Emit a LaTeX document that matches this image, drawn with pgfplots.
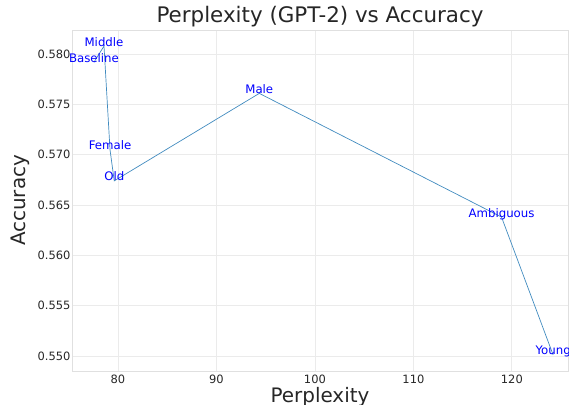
\documentclass[border=0pt]{standalone}
\usepackage{pgfplots}
\pgfplotsset{compat=1.18}
\usepackage{fontspec}
\setmainfont{DejaVu Sans}
\definecolor{mplblue}{HTML}{1F77B4}
\definecolor{gridgray}{HTML}{EBEBEB}
\definecolor{spinegray}{HTML}{E0E0E0}
\definecolor{txt}{HTML}{262626}
\begin{document}
\begin{tikzpicture}
\useasboundingbox (0,0) rectangle (569bp,405bp);
\begin{axis}[
  at={(72bp,34bp)}, anchor=south west,
  scale only axis,
  width=496bp, height=341bp,
  xmin=75.33, xmax=125.7,
  ymin=0.5485, ymax=0.5824,
  xtick={80,90,100,110,120},
  ytick={0.550,0.555,0.560,0.565,0.570,0.575,0.580},
  yticklabel style={/pgf/number format/fixed, /pgf/number format/fixed zerofill,
    /pgf/number format/precision=3},
  /pgf/number format/assume math mode=true,
  tick label style={font=\fontsize{11.5}{13}\selectfont, text=txt},
  xticklabel style={yshift=0bp},
  yticklabel style={xshift=2bp},
  major tick length=0pt,
  grid=major,
  grid style={gridgray, line width=0.8pt},
  axis line style={spinegray, line width=0.8pt},
  title={Perplexity (GPT-2) vs Accuracy},
  title style={font=\fontsize{21.5}{25}\selectfont, text=txt, at={(axis description cs:0.5,1)}, anchor=base, yshift=1.5bp},
  xlabel={Perplexity},
  ylabel={Accuracy},
  label style={font=\fontsize{20}{23}\selectfont, text=txt},
  xlabel style={at={(axis description cs:0.5,0)}, anchor=base, yshift=-31.5bp},
  ylabel style={at={(axis description cs:-0.105,0.5)}, anchor=center},
  clip=false,
]
\addplot[mplblue!85!white, line width=0.7pt, no markers,
  point meta=explicit symbolic,
  nodes near coords,
  every node near coord/.append style={anchor=base, inner sep=0pt, text=blue,
    font=\fontsize{11.8}{13}\selectfont},
] coordinates {
  (77.56,0.5792) [Baseline]
  (78.58,0.5808) [Middle]
  (79.19,0.5705) [Female]
  (79.62,0.5674) [Old]
  (94.35,0.5761) [Male]
  (118.95,0.5638) [Ambiguous]
  (124.19,0.5501) [Young]
};
\end{axis}
\end{tikzpicture}
\end{document}
